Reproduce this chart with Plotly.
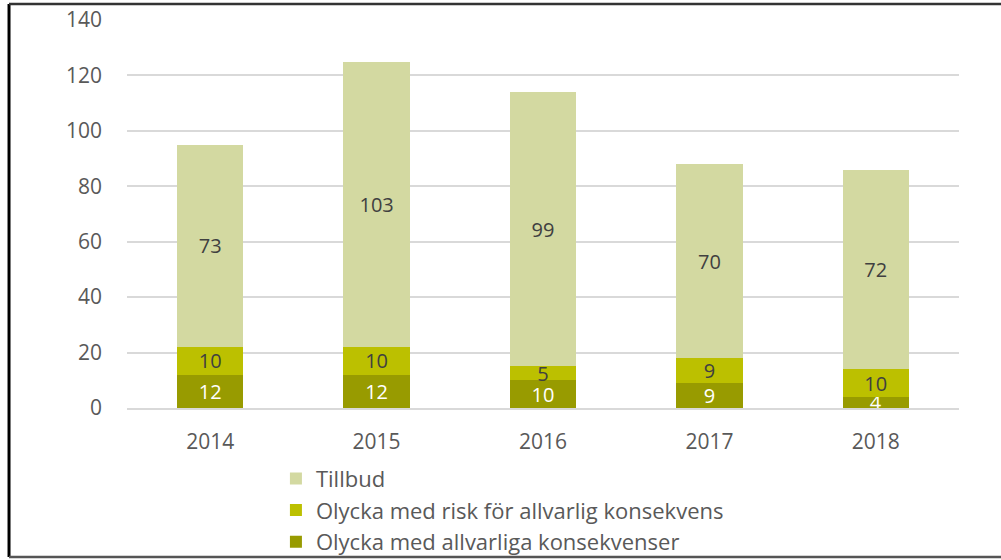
import plotly.graph_objects as go

years = ["2014", "2015", "2016", "2017", "2018"]
allvarliga = [12, 12, 10, 9, 4]
risk = [10, 10, 5, 9, 10]
tillbud = [73, 103, 99, 70, 72]

y_ticks = [0, 20, 40, 60, 80, 100, 120, 140]

FONT = "Open Sans"

fig = go.Figure()
series = [
    ("Olycka med allvarliga konsekvenser", allvarliga, "#989B00", "white"),
    ("Olycka med risk för allvarlig konsekvens", risk, "#BCC000", "#404040"),
    ("Tillbud", tillbud, "#D3D9A1", "#404040"),
]
for name, vals, color, txt in series:
    fig.add_trace(
        go.Bar(
            x=years,
            y=vals,
            name=name,
            marker=dict(color=color, line=dict(width=0)),
            text=vals,
            textposition="inside",
            insidetextanchor="middle",
            textangle=0,
            textfont=dict(family=FONT, size=20, color=txt),
            cliponaxis=True,
        )
    )

fig.update_layout(
    barmode="stack",
    bargap=0.6,
    width=1001,
    height=560,
    margin=dict(l=127, r=42, t=20, b=152, autoexpand=False),
    paper_bgcolor="white",
    plot_bgcolor="white",
    font=dict(family=FONT, color="#595959", size=21),
    uniformtext=dict(minsize=20, mode="show"),
    showlegend=True,
    legend=dict(
        x=0.179,
        y=-0.128,
        xanchor="left",
        yanchor="top",
        traceorder="reversed",
        font=dict(family=FONT, size=22, color="#595959"),
        tracegroupgap=0,
        itemwidth=30,
        bgcolor="rgba(0,0,0,0)",
    ),
    xaxis=dict(
        showgrid=False,
        showline=True,
        linecolor="#D9D9D9",
        linewidth=1.5,
        ticks="",
        ticklabelstandoff=14,
        tickfont=dict(size=21),
        automargin=False,
    ),
    yaxis=dict(
        range=[0, 140],
        tickvals=y_ticks,
        showgrid=True,
        gridcolor="#D9D9D9",
        gridwidth=1.5,
        zeroline=False,
        ticks="",
        ticklabelstandoff=24,
        tickfont=dict(size=21),
        automargin=False,
    ),
    shapes=[
        dict(type="line", xref="paper", yref="paper", x0=-0.1418, x1=-0.1418, y0=-0.384, y1=1.041,
             line=dict(color="black", width=3)),
        dict(type="line", xref="paper", yref="paper", x0=-0.1418, x1=1.06, y0=1.041, y1=1.041,
             line=dict(color="#333333", width=2.5)),
        dict(type="line", xref="paper", yref="paper", x0=-0.1418, x1=1.06, y0=-0.384, y1=-0.384,
             line=dict(color="#555555", width=2.5)),
    ],
)

fig.write_html(
    "out.html",
    config={"displayModeBar": False},
    post_script="document.body.style.margin='0';",
)
